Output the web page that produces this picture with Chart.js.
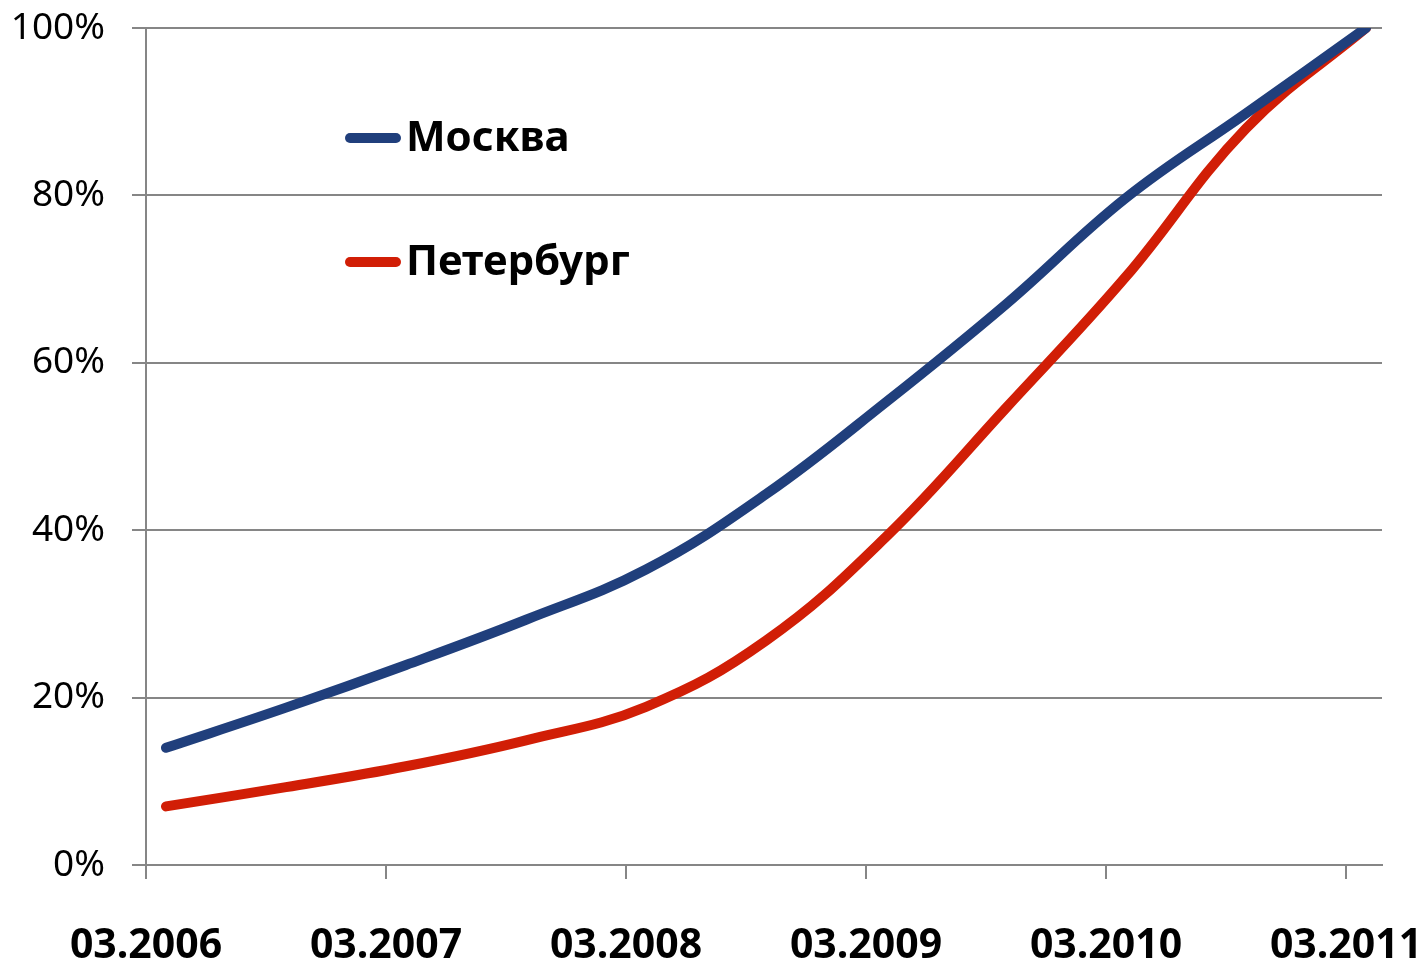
<!DOCTYPE html>
<html>
<head>
<meta charset="utf-8">
<script src="https://cdn.jsdelivr.net/npm/chart.js@4.4.1/dist/chart.umd.min.js"></script>
<style>
  html, body { margin: 0; padding: 0; background: #ffffff; }
  #wrap { position: relative; width: 1427px; height: 963px; }
  canvas { position: absolute; left: 0; top: 0; }
  .leg { position: absolute; font-family: "Noto Sans", sans-serif; font-weight: bold; font-size: 42px; color: #000; line-height: 1; white-space: nowrap; }
  .leg .sw { display: inline-block; width: 56px; height: 10px; border-radius: 5px; vertical-align: middle; margin-right: 5px; position: relative; top: -2px; }
</style>
</head>
<body>
<div id="wrap">
  <canvas id="c" width="1427" height="963"></canvas>
  <div class="leg" id="leg0" style="left:345px; top:114px;"><span class="sw"></span><span class="tx"></span></div>
  <div class="leg" id="leg1" style="left:345px; top:238px;"><span class="sw"></span><span class="tx"></span></div>
</div>
<script>
// ---- data ----
const seriesNames = ["Москва", "Петербург"];
const seriesColors = ["#203f7c", "#d11e06"];
// months counted from 03.2006
const months = [1, 7, 13, 19, 25, 31, 37, 43, 49, 55, 61];
const moscow = [0.140, 0.188, 0.239, 0.293, 0.353, 0.443, 0.553, 0.670, 0.797, 0.898, 1.000];
const peter  = [0.070, 0.093, 0.118, 0.149, 0.189, 0.268, 0.392, 0.546, 0.703, 0.880, 1.000];
const tickMonths = [0, 12, 24, 36, 48, 60];
const tickLabels = ["03.2006", "03.2007", "03.2008", "03.2009", "03.2010", "03.2011"];
const yTicks = [0, 0.2, 0.4, 0.6, 0.8, 1.0];

// legend text
["leg0", "leg1"].forEach((id, i) => {
  const el = document.getElementById(id);
  el.querySelector(".sw").style.background = seriesColors[i];
  el.querySelector(".tx").textContent = seriesNames[i];
});

const gridColor = "#868686";

const toPoints = (xs, ys) => xs.map((x, i) => ({ x: x, y: ys[i] }));

new Chart(document.getElementById("c"), {
  type: "line",
  data: {
    datasets: [
      { label: seriesNames[0], data: toPoints(months, moscow), borderColor: seriesColors[0], borderWidth: 10, pointRadius: 0, tension: 0.4, borderCapStyle: "round", borderJoinStyle: "round", fill: false },
      { label: seriesNames[1], data: toPoints(months, peter), borderColor: seriesColors[1], borderWidth: 10, pointRadius: 0, tension: 0.4, borderCapStyle: "round", borderJoinStyle: "round", fill: false }
    ]
  },
  options: {
    responsive: false,
    animation: false,
    layout: { padding: { top: 28, right: 45, left: 0, bottom: 0 } },
    plugins: { legend: { display: false }, tooltip: { enabled: false } },
    scales: {
      x: {
        type: "linear",
        min: 0,
        max: 61.8,
        afterBuildTicks: (s) => { s.ticks = tickMonths.map(v => ({ value: v })); },
        afterFit: (s) => { s.height = 98; s.paddingLeft = 0; s.paddingRight = 0; },
        grid: { drawOnChartArea: false, drawTicks: true, tickLength: 14, color: gridColor, lineWidth: 2 },
        border: { display: true, color: gridColor, width: 2 },
        ticks: {
          autoSkip: false, maxRotation: 0, minRotation: 0, padding: 43,
          color: "#000",
          font: { family: "Noto Sans", size: 41, weight: "bold" },
          callback: (v) => { const i = tickMonths.indexOf(v); return i >= 0 ? tickLabels[i] : ""; }
        }
      },
      y: {
        min: 0,
        max: 1,
        afterBuildTicks: (s) => { s.ticks = yTicks.map(v => ({ value: v })); },
        afterFit: (s) => { s.width = 146; s.paddingTop = 0; s.paddingBottom = 0; },
        grid: { drawOnChartArea: true, drawTicks: true, tickLength: 14, color: gridColor, lineWidth: 2 },
        border: { display: true, color: gridColor, width: 2 },
        ticks: {
          padding: 27,
          color: "#000",
          font: { family: "Noto Sans", size: 37 },
          callback: (v) => Math.round(v * 100) + "%"
        }
      }
    }
  }
});
</script>
</body>
</html>
